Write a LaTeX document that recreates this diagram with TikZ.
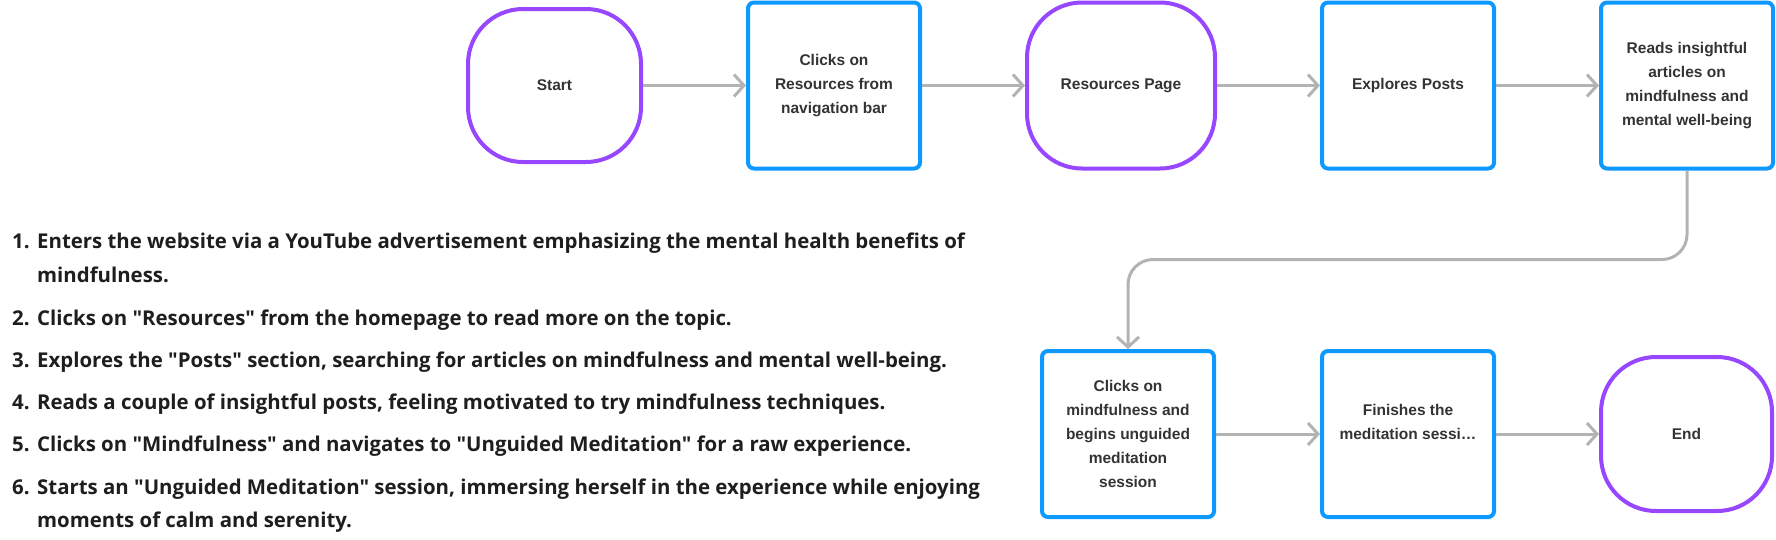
\documentclass[tikz,border=0pt]{standalone}
\usepackage{fontspec}
\setmainfont{Liberation Sans}
\newfontfamily\listfont{Open Sans}
\usetikzlibrary{arrows.meta, positioning}

\definecolor{termpurple}{HTML}{9747FF}
\definecolor{boxblue}{HTML}{0D99FF}
\definecolor{linegray}{HTML}{B3B3B3}
\definecolor{labeltext}{HTML}{333333}
\definecolor{listtext}{HTML}{1E1E1E}

\begin{document}
\begin{tikzpicture}[
    x=1pt, y=-1pt,
    node distance=103pt,
    box/.style={rectangle, draw=boxblue, line width=4pt, minimum width=172pt, minimum height=166pt,
                align=center, text=labeltext, font=\fontsize{15.5}{24}\selectfont\bfseries, rounded corners=6pt},
    term/.style={rectangle, draw=termpurple, line width=4pt, align=center, text=labeltext,
                 font=\fontsize{15.5}{24}\selectfont\bfseries, rounded corners=55pt},
    arr/.style={-{Straight Barb[length=10pt, width=22pt]}, draw=linegray, line width=3pt},
    stepitem/.style={anchor=base west, inner sep=0pt, text=listtext,
                     font=\listfont\bfseries\fontsize{20.4}{34}\selectfont},
]
\useasboundingbox (0,0) rectangle (1776,539);

% Top row
\node[term, minimum width=173pt, minimum height=153pt] (start) at (554.5,85.5) {Start};
\node[box, right=of start] (navbar) {Clicks on\\Resources from\\navigation bar};
\node[term, minimum width=188pt, minimum height=166pt, right=of navbar] (respage) {Resources Page};
\node[box, right=of respage] (explore) {Explores Posts};
\node[box, right=of explore] (reads) {Reads insightful\\articles on\\mindfulness and\\mental well-being};

\draw[arr] (start) -- (navbar);
\draw[arr] (navbar) -- (respage);
\draw[arr] (respage) -- (explore);
\draw[arr] (explore) -- (reads);

% Bottom row
\node[box] (mind) at (1128,434) {Clicks on\\mindfulness and\\begins unguided\\meditation\\session};
\node[box, right=104pt of mind] (finish) {Finishes the\\meditation sessi…\\\mbox{}};
\node[term, minimum width=171pt, minimum height=154pt, right=of finish] (end) {End};

\draw[arr, rounded corners=25pt] (reads.south) -- ++(0,89) -| (mind.north);
\draw[arr] (mind) -- (finish);
\draw[arr] (finish) -- (end);

% Journey steps
\node[stepitem] (s1) at (12,248) {\makebox[25pt][l]{1.}Enters the website via a YouTube advertisement emphasizing the mental health benefits of};
\node[stepitem] (s1b) at (37,282) {mindfulness.};
\node[stepitem] (s2) at (12,325) {\makebox[25pt][l]{2.}Clicks on "Resources" from the homepage to read more on the topic.};
\node[stepitem] (s3) at (12,367) {\makebox[25pt][l]{3.}Explores the "Posts" section, searching for articles on mindfulness and mental well-being.};
\node[stepitem] (s4) at (12,409) {\makebox[25pt][l]{4.}Reads a couple of insightful posts, feeling motivated to try mindfulness techniques.};
\node[stepitem] (s5) at (12,451) {\makebox[25pt][l]{5.}Clicks on "Mindfulness" and navigates to "Unguided Meditation" for a raw experience.};
\node[stepitem] (s6) at (12,494) {\makebox[25pt][l]{6.}Starts an "Unguided Meditation" session, immersing herself in the experience while enjoying};
\node[stepitem] (s6b) at (37,527) {moments of calm and serenity.};

\end{tikzpicture}
\end{document}
